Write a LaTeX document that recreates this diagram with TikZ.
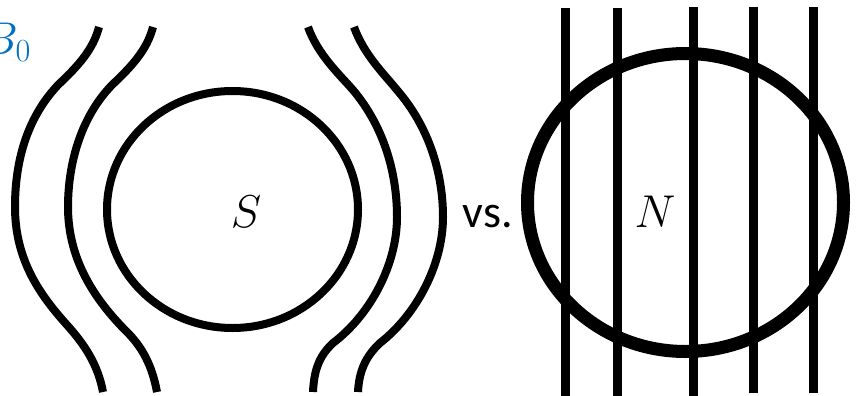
\RequirePackage{fix-cm}
\documentclass[tikz,border=0pt]{standalone}
\usepackage{fontspec}
\newfontfamily\vsfont{Carlito}
\definecolor{bzero}{HTML}{0070C0}
\begin{document}
\begin{tikzpicture}[x=1pt,y=-1pt,
  fieldline/.style={line width=8pt},
  straightline/.style={line width=9pt},
  bigtext/.style={font=\fontsize{46}{50}\selectfont, inner sep=0pt}]
\useasboundingbox (0,0) rectangle (859,396);
% superconducting sphere (left)
\draw[line width=8pt] (232.5,209.5) ellipse [x radius=125.5, y radius=118.5];
\node[bigtext, anchor=base] (S) at (246,227) {$S$};
% expelled field lines
\draw[fieldline] (99,27) .. controls (93,50) and (78,66) .. (58,85)
  .. controls (25,120) and (15,165) .. (15,207)
  .. controls (15,260) and (40,295) .. (67,325)
  .. controls (85,345) and (98,365) .. (103,392);
\draw[fieldline] (153,27) .. controls (147,50) and (132,66) .. (112,85)
  .. controls (80,118) and (68,165) .. (68,207)
  .. controls (68,260) and (95,300) .. (127,332)
  .. controls (142,347) and (152,365) .. (157,392);
\draw[fieldline] (308,27) .. controls (318,55) and (340,75) .. (353,90)
  .. controls (385,128) and (397,175) .. (397,217)
  .. controls (397,265) and (370,315) .. (333,343)
  .. controls (318,357) and (314,372) .. (313,392);
\draw[fieldline] (354,27) .. controls (364,55) and (385,75) .. (397,90)
  .. controls (430,128) and (443,175) .. (443,217)
  .. controls (443,265) and (416,315) .. (380,343)
  .. controls (365,357) and (359,372) .. (358,392);
\node[bigtext, anchor=base east, text=bzero] (B) at (31,55) {$B_0$};
% vs.
\node[anchor=base, inner sep=0pt, font=\vsfont\fontsize{46}{50}\selectfont] (vs) at (487.5,227) {vs.};
% normal sphere (right)
\draw[line width=13pt] (685.5,202.5) ellipse [x radius=158, y radius=149];
\foreach \xx/\yt/\yb in {565/8/396, 617.7/8/396, 693.3/7/396, 753.3/7/393, 813.3/7/393}
  \draw[straightline] (\xx,\yt) -- (\xx,\yb);
\node[bigtext, anchor=base] (N) at (655,227) {$N$};
\end{tikzpicture}
\end{document}
